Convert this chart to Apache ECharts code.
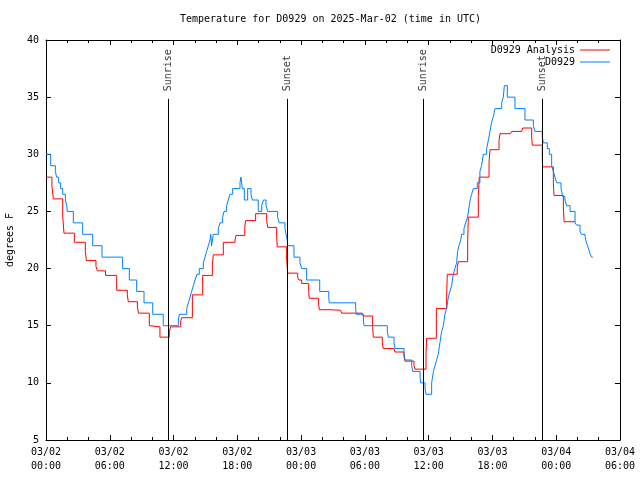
<!DOCTYPE html>
<html>
<head>
<meta charset="utf-8">
<script src="https://cdn.jsdelivr.net/npm/echarts@6/dist/echarts.min.js"></script>
<style>html,body{margin:0;padding:0;background:#fff;}#c{width:640px;height:480px;}</style>
</head>
<body>
<div id="c"></div>
<script>
// Hours since 2025-03-02 00:00 UTC
const analysisHours = [0,0.56,0.69,1.57,1.69,2.67,3.7,3.8,4.7,4.83,
  5.6,6.65,7.65,7.74,8.6,8.7,9.72,9.81,10.72,11.6,
  11.73,12.67,12.76,13.77,14.74,15.65,15.74,16.68,17.78,17.87,
  18.7,18.78,19.72,20.76,20.86,21.7,21.76,22.64,22.74,23.68,
  23.8,24.05,24.71,24.77,25.65,25.71,26.72,27.72,27.81,29.76,
  29.85,30.73,30.79,31.64,31.73,32.74,32.83,33.68,33.77,34.62,
  34.71,35.75,35.81,36.72,37.69,37.75,38.69,38.79,39.67,39.73,
  40.67,40.76,41.68,41.77,42.62,42.71,43.71,43.81,44.75,44.85,
  45.69,45.75,46.69,46.72,47.73,47.79,48.67,48.74,49.77];
const analysisTemps = [28,27.2,26.1,24.6,23.1,22.3,21.5,20.7,20.2,19.8,
  19.4,18.1,17.7,17.1,16.6,16.1,15.0,14.9,14.0,14.5,
  14.9,15.4,15.7,17.7,19.4,20.3,21.2,22.3,22.5,22.9,
  23.6,24.2,24.8,24.2,23.6,22.8,21.9,20.8,19.6,19.2,
  19.0,18.7,18.0,17.4,16.9,16.4,16.35,16.2,16.1,15.95,
  15.85,14.9,14.0,13.5,13.0,12.85,12.7,12.3,11.9,11.5,
  11.2,12.5,13.9,16.5,17.5,19.5,20.1,20.6,22.5,24.5,
  26.3,28.0,29.3,30.4,31.2,31.8,31.9,32.0,32.1,32.3,
  31.5,30.8,29.8,28.9,27.5,26.4,25.3,24.1,24.1];

const obsHours = [0,0.44,0.88,1.0,1.19,1.38,1.57,1.82,1.95,2.0,
  2.57,3.45,4.39,5.27,7.21,7.84,8.53,9.22,10.04,11.03,
  12.45,12.54,13.24,13.39,13.55,13.7,13.86,14.02,14.2,14.42,
  14.8,14.96,15.11,15.27,15.43,15.5,15.58,15.74,16.21,16.37,
  16.62,16.75,16.99,17.15,17.3,17.56,18.25,18.34,18.41,18.47,
  18.66,18.97,19.29,19.41,19.97,20.29,20.45,20.7,20.85,21.79,
  21.95,22.48,22.58,22.7,22.73,23.33,23.89,24.05,24.52,25.75,
  26.6,26.65,29.13,29.19,29.86,29.92,32.11,32.21,32.74,32.83,
  33.68,33.78,34.4,34.5,35.19,35.25,35.66,35.75,36.28,36.45,
  36.6,36.75,36.9,37.06,37.22,37.38,37.53,37.69,37.85,38.0,
  38.16,38.32,38.47,38.63,38.72,38.85,39.01,39.1,39.32,39.48,
  39.66,39.82,39.9,40.04,40.2,40.57,40.82,40.98,41.14,41.45,
  41.61,41.77,41.92,42.08,42.24,42.87,43.02,43.12,43.4,44.12,
  45.06,45.85,46.0,46.69,46.79,47.16,47.35,47.57,47.73,47.88,
  48.04,48.45,48.61,48.82,48.98,49.3,49.77,49.92,50.24,50.39,
  50.71,50.86,51.02,51.18,51.33,51.45];
const obsTemps = [30,29,28.5,28,27.5,27,26.5,26,25.5,25,
  24,23,22,21,20,19,18,17,16,15,
  15.5,16,16.5,17,17.5,18,18.5,19,19.5,20,
  20.5,21,21.5,22,22.5,23,22,23,23.5,24,
  24.5,25,25.5,26,26.5,27,27.5,28,27.5,27,
  26,27,26.5,26,25,25.5,26,25.5,25,24.5,
  24,23.5,23,22.5,22,21,20.5,20,19,18,
  17.5,17,16.5,16,15.5,15,14.5,14,13.5,13,
  12.5,12,11.5,11,10.5,10,9.5,9,10,11,
  11.5,12,12.5,13.5,14.5,15,16,16.5,17.5,18,
  18.5,19.5,20,20.5,21.5,22,22.5,23,23.5,24,
  24.5,25.5,26,26.5,27,27.5,28.5,29,30,30.5,
  31.2,32,32.8,33.3,34,34.5,35,36,35,34,
  33,32.5,32,31.5,31,30.5,30,29,28.5,28,
  27.5,27,26.3,26,25.5,25,24,23.8,23.2,23,
  22.8,22.2,21.8,21.3,21,21];

const sunHours = [11.5, 22.7, 35.49, 46.69];
const sunLabels = ['Sunrise', 'Sunset', 'Sunrise', 'Sunset'];
const sunLineTop = 34.85;

const xTickLabels = ['03/02\n00:00','03/02\n06:00','03/02\n12:00','03/02\n18:00',
  '03/03\n00:00','03/03\n06:00','03/03\n12:00','03/03\n18:00','03/04\n00:00','03/04\n06:00'];
const yTicks = [5,10,15,20,25,30,35,40];

const FONT = 'DejaVu Sans Mono';
const zip = (a, b) => a.map((v, i) => [v, b[i]]);

const chart = echarts.init(document.getElementById('c'), null, {renderer: 'canvas'});
const tickCommon = {show: true, inside: true, length: 5, lineStyle: {color: '#000', width: 1}};
const minorCommon = {show: true, splitNumber: 3, length: 3, lineStyle: {color: '#000', width: 1}};
const xBase = {
  type: 'value', min: 0, max: 54, interval: 6,
  axisLine: {show: true, onZero: false, lineStyle: {color: '#000', width: 1}},
  axisTick: tickCommon, minorTick: minorCommon,
  splitLine: {show: false}
};
const yBase = {
  type: 'value', min: yTicks[0], max: yTicks[yTicks.length - 1], interval: 5,
  axisLine: {show: true, onZero: false, lineStyle: {color: '#000', width: 1}},
  axisTick: tickCommon,
  splitLine: {show: false}
};

chart.setOption({
  animation: false,
  backgroundColor: '#fff',
  title: {
    text: 'Temperature for D0929 on 2025-Mar-02 (time in UTC)',
    left: 180, top: 14, padding: 0,
    textStyle: {fontFamily: FONT, fontSize: 10, fontWeight: 'normal', color: '#000'}
  },
  legend: [
    {data: ['D0929 Analysis'], right: 30, top: 44, padding: 0, align: 'right', icon: 'rect',
      itemWidth: 30, itemHeight: 1, selectedMode: false,
      textStyle: {fontFamily: FONT, fontSize: 10, color: '#000', lineHeight: 12}},
    {data: ['D0929'], right: 30, top: 56, padding: 0, align: 'right', icon: 'rect',
      itemWidth: 30, itemHeight: 1, selectedMode: false,
      textStyle: {fontFamily: FONT, fontSize: 10, color: '#000', lineHeight: 12}}
  ],
  grid: {left: 46, right: 20, top: 40, bottom: 40, containLabel: false, outerBoundsMode: 'none'},
  xAxis: [
    Object.assign({}, xBase, {
      position: 'bottom',
      axisLabel: {show: true, margin: 5, fontFamily: FONT, fontSize: 10, color: '#000', lineHeight: 14,
        formatter: v => xTickLabels[Math.round(v / 6)] || ''}
    }),
    Object.assign({}, xBase, {position: 'top', axisLabel: {show: false}})
  ],
  yAxis: [
    Object.assign({}, yBase, {
      position: 'left',
      name: 'degrees F', nameLocation: 'middle', nameRotate: 90, nameGap: 31,
      nameTextStyle: {fontFamily: FONT, fontSize: 10, color: '#000'},
      axisLabel: {show: true, margin: 7, fontFamily: FONT, fontSize: 10, color: '#000'}
    }),
    Object.assign({}, yBase, {position: 'right', axisLabel: {show: false}})
  ],
  series: [
    {
      name: 'sun', type: 'scatter', symbolSize: 1, silent: true,
      itemStyle: {color: 'rgba(0,0,0,0)'},
      data: sunHours.map((h, i) => ({value: [h, sunLineTop], name: sunLabels[i]})),
      label: {show: true, formatter: p => p.name, position: 'top', distance: 6, rotate: 90,
        align: 'left', verticalAlign: 'middle', offset: [1, 0],
        fontFamily: FONT, fontSize: 10, color: '#000'},
      markLine: {
        symbol: 'none', silent: true, animation: false,
        label: {show: false},
        lineStyle: {color: '#000', width: 1, type: 'solid'},
        emphasis: {disabled: true},
        data: sunHours.map(h => [{coord: [h, yTicks[0]]}, {coord: [h, sunLineTop]}])
      }
    },
    {
      name: 'D0929 Analysis', type: 'line', step: 'end', showSymbol: false, symbol: 'none',
      lineStyle: {color: '#ff0000', width: 1}, itemStyle: {color: '#ff0000'},
      data: zip(analysisHours, analysisTemps)
    },
    {
      name: 'D0929', type: 'line', step: 'end', showSymbol: false, symbol: 'none',
      lineStyle: {color: '#0080ff', width: 1}, itemStyle: {color: '#0080ff'},
      data: zip(obsHours, obsTemps)
    }
  ]
});
</script>
</body>
</html>
